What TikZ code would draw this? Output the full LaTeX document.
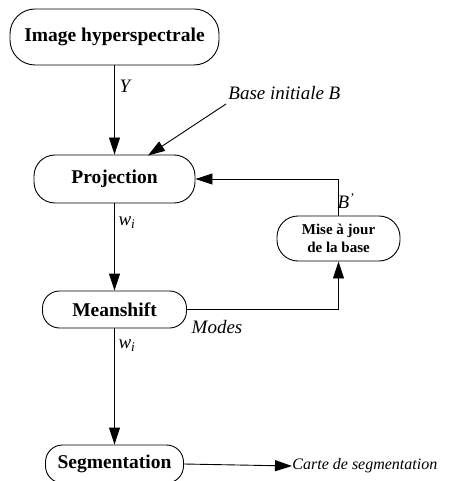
\documentclass[tikz,border=0pt]{standalone}
\usepackage{fontspec}
\setmainfont{Liberation Serif}
\usetikzlibrary{arrows.meta}
\begin{document}
\begin{tikzpicture}[x=1pt,y=-1pt,line width=0.9pt,
  bloc/.style={draw,rounded corners=21pt,inner sep=0pt,font=\fontsize{19.5}{21}\selectfont\bfseries},
  fleche/.style={-{Triangle[length=17pt,width=11pt]}},
  lab/.style={font=\fontsize{19}{21}\selectfont\itshape,inner sep=0pt}]
\useasboundingbox (0,0) rectangle (452,481);

% Blocs de la chaine principale.
\node[bloc,rounded corners=25pt,minimum width=209pt,minimum height=56pt] (img) at (114.5,37) {Image hyperspectrale};
\node[bloc,minimum width=161pt,minimum height=48pt] (proj) at (114.5,179) {Projection};
\node[bloc,rounded corners=17pt,minimum width=144pt,minimum height=37pt] (mean) at (114.5,309.5) {Meanshift};
\node[bloc,rounded corners=17pt,minimum width=138pt,minimum height=38pt] (seg) at (114.5,464) {Segmentation};

% Mise a jour de la base.
\node[bloc,rounded corners=21pt,minimum width=123pt,minimum height=45pt,align=center,
  font=\fontsize{15}{18}\selectfont\bfseries] (maj) at (338.5,238.5) {Mise à jour\\de la base};

% Fleches verticales.
\draw[fleche] (img) -- (proj);
\draw[fleche] (proj) -- (mean);
\draw[fleche] (mean) -- (seg);

% Boucle de mise a jour.
\draw[fleche] (mean.east) -| (maj.south);
\draw[fleche] (maj.north) |- (proj.east);

% Base initiale.
\node[lab,anchor=west] (binit) at (228,93) {Base initiale B};
\coordinate (bstart) at (226,104);
\draw[fleche] (bstart) -- (148,155.5);

% Sortie.
\node[anchor=west,inner sep=0pt,font=\fontsize{16}{18}\selectfont\itshape] (carte) at (292,466) {Carte de segmentation};
\draw[fleche] (seg.east) -- (carte.west);

% Etiquettes.
\node[lab] (ly) at (125,86) {Y};
\node[lab] (lw1) at (127,223) {w\textsubscript{i}};
\node[lab] (lw2) at (127,346) {w\textsubscript{i}};
\node[lab] (lb) at (346,201) {B\textsuperscript{'}};
\node[lab] (lmodes) at (217,327) {Modes};
\end{tikzpicture}
\end{document}
